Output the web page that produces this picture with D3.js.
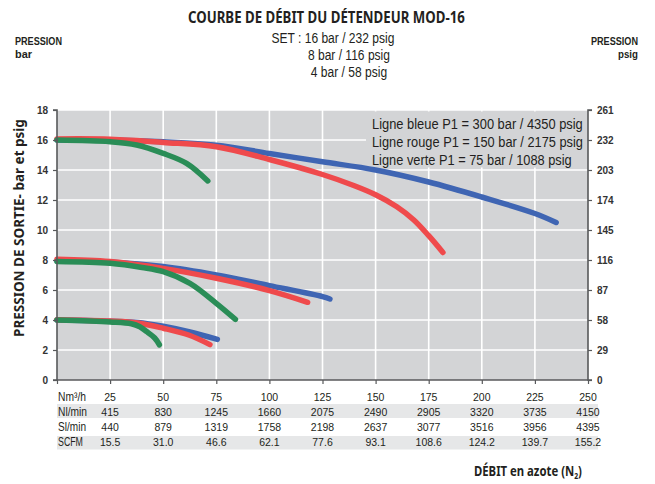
<!DOCTYPE html>
<html><head><meta charset="utf-8">
<script src="https://cdn.jsdelivr.net/npm/d3@7"></script>
<style>
html,body{margin:0;padding:0;background:#fff;}
svg{display:block;}
</style></head>
<body>
<svg id="chart" width="655" height="484"></svg>
<script>
// ---------- data ----------
const flowTicks = [25, 50, 75, 100, 125, 150, 175, 200, 225, 250];
const nlMin = ["415","830","1245","1660","2075","2490","2905","3320","3735","4150"];
const slMin = ["440","879","1319","1758","2198","2637","3077","3516","3956","4395"];
const scfm = ["15.5","31.0","46.6","62.1","77.6","93.1","108.6","124.2","139.7","155.2"];
const tableLabels = ["Nm³/h", "Nl/min", "Sl/min", "SCFM"];
const barTicks = [0, 2, 4, 6, 8, 10, 12, 14, 16, 18];
const psigTicks = [0, 29, 58, 87, 116, 145, 174, 203, 232, 261];
const legendLines = [
  "Ligne bleue P1 = 300 bar / 4350 psig",
  "Ligne rouge P1 = 150 bar / 2175 psig",
  "Ligne verte P1 = 75 bar / 1088 psig"
];
// flow (Nm3/h), outlet pressure (bar)
const blue16 = [[0,16.0],[25,16.0],[50,15.88],[75,15.65],[100,15.1],[125,14.55],[150,14.0],[175,13.2],[200,12.2],[225,11.1],[235,10.5]];
const red16 = [[0,16.07],[25,16.05],[50,15.84],[75,15.55],[100,14.7],[125,13.7],[140,12.95],[150,12.35],[160,11.55],[168,10.67],[175,9.62],[181.7,8.5]];
const green16 = [[0,16.0],[25,15.89],[37.5,15.67],[50,15.11],[61,14.44],[71,13.27]];
const blue8 = [[0,7.95],[25,7.86],[50,7.56],[75,7.0],[100,6.29],[125,5.56],[128.5,5.4]];
const red8 = [[0,8.05],[25,7.9],[50,7.44],[75,6.78],[100,5.96],[118,5.18]];
const green8 = [[0,7.9],[25,7.78],[40,7.5],[50,7.22],[62.6,6.44],[75,5.11],[84,4.04]];
const blue4 = [[0,4.0],[25,3.92],[38,3.84],[50,3.58],[62.6,3.2],[75.5,2.71]];
const red4 = [[0,4.02],[25,3.93],[38,3.8],[50,3.45],[62,3.0],[72,2.36]];
const green4 = [[0,4.0],[25,3.87],[35,3.75],[39,3.55],[42,3.25],[46,2.8],[48.2,2.35]];

const seriesList = [
  {data: blue16, color: "#3f65b3"}, {data: blue8, color: "#3f65b3"}, {data: blue4, color: "#3f65b3"},
  {data: red16, color: "#ef4a4c"}, {data: red8, color: "#ef4a4c"}, {data: red4, color: "#ef4a4c"},
  {data: green16, color: "#2a8d57"}, {data: green8, color: "#2a8d57"}, {data: green4, color: "#2a8d57"}
];

// ---------- layout ----------
const svg = d3.select("#chart");
const L = 57, R = 588, T = 110, B = 380;
const x = d3.scaleLinear().domain([0, 250]).range([L, R]);
const y = d3.scaleLinear().domain([0, 18]).range([B, T]);
const yPsi = d3.scaleLinear().domain([0, 261]).range([B, T]);
const cond = "'Noto Sans','Open Sans',sans-serif";
const plain = "'Liberation Sans',Arial,sans-serif";
const ink = "#231f20";

// text compressed horizontally to a given width (imitates a condensed face)
function ctext(parent, o) {
  const t = parent.append("text").attr("font-family", o.family || cond).attr("font-size", o.size)
    .attr("font-weight", o.bold ? "bold" : "normal").attr("fill", ink);
  if (o.parts) {
    o.parts.forEach(p => {
      const s = t.append("tspan").text(p.t);
      if (p.size) s.attr("font-size", p.size);
      if (p.dy) s.attr("dy", p.dy);
    });
  } else t.text(o.text);
  const w = t.node().getComputedTextLength();
  const sx = o.width ? o.width / w : (o.sx || 1);
  const ww = w * sx;
  const dx = o.anchor === "middle" ? -ww / 2 : o.anchor === "end" ? -ww : 0;
  const rot = o.rotate ? ` rotate(${o.rotate})` : "";
  t.attr("transform", `translate(${o.x},${o.y})${rot} translate(${dx},0) scale(${sx},1)`);
  return sx;
}

// titles
ctext(svg, {x: 326.5, y: 23, text: "COURBE DE DÉBIT DU DÉTENDEUR MOD-16", size: 16, bold: true, width: 277, anchor: "middle"});
const subScale = ctext(svg, {x: 333, y: 43, text: "SET : 16 bar / 232 psig", size: 14.5, family: plain, width: 123, anchor: "middle"});
ctext(svg, {x: 349, y: 60, text: "8 bar / 116 psig", size: 14.5, family: plain, sx: subScale, anchor: "middle"});
ctext(svg, {x: 349, y: 77, text: "4 bar / 58 psig", size: 14.5, family: plain, sx: subScale, anchor: "middle"});
ctext(svg, {x: 15, y: 45, text: "PRESSION", size: 10.5, bold: true, family: plain, width: 47});
ctext(svg, {x: 15, y: 58, text: "bar", size: 10.5, bold: true, family: plain, width: 17});
ctext(svg, {x: 638, y: 45, text: "PRESSION", size: 10.5, bold: true, family: plain, width: 47, anchor: "end"});
ctext(svg, {x: 638, y: 58, text: "psig", size: 10.5, bold: true, family: plain, width: 20, anchor: "end"});

// plot background
svg.append("rect").attr("x", L).attr("y", T).attr("width", R - L).attr("height", B - T).attr("fill", "#d3d4d6");
// grid
svg.append("g").selectAll("line").data(barTicks.filter(d => d > 0)).join("line")
  .attr("x1", L).attr("x2", R).attr("y1", d => y(d)).attr("y2", d => y(d))
  .attr("stroke", "#fff").attr("stroke-width", 1.6);
svg.append("g").selectAll("line").data(flowTicks.filter(d => d < 250)).join("line")
  .attr("x1", d => x(d)).attr("x2", d => x(d)).attr("y1", T).attr("y2", B)
  .attr("stroke", "#fff").attr("stroke-width", 1.6);

// legend box
svg.append("rect").attr("x", 366).attr("y", T + 1.5).attr("width", R - 366).attr("height", 56).attr("fill", "#d3d4d6");
legendLines.forEach((t, i) => {
  ctext(svg, {x: 372, y: 129 + i * 18, text: t, size: 15, family: plain, width: i === 2 ? 200 : 211});
});

// curves
const line = d3.line().x(d => x(d[0])).y(d => y(d[1])).curve(d3.curveCatmullRom.alpha(0.5));
svg.append("g").selectAll("path").data(seriesList).join("path")
  .attr("d", d => line(d.data)).attr("fill", "none").attr("stroke", d => d.color)
  .attr("stroke-width", 5.5).attr("stroke-linecap", "round").attr("stroke-linejoin", "round");

// axes
const axisColor = "#58595b";
const gl = svg.append("g").attr("transform", `translate(${L},0)`)
  .call(d3.axisLeft(y).tickValues(barTicks).tickSize(4).tickPadding(5).tickFormat(d3.format("d")));
const gr = svg.append("g").attr("transform", `translate(${R},0)`)
  .call(d3.axisRight(yPsi).tickValues(psigTicks).tickSize(4).tickPadding(5).tickFormat(d3.format("d")));
const gb = svg.append("g").attr("transform", `translate(0,${B})`)
  .call(d3.axisBottom(x).tickValues([0].concat(flowTicks)).tickSize(4).tickFormat(""));
[gl, gr, gb].forEach(g => {
  g.select(".domain").attr("stroke", axisColor).attr("stroke-width", 1.6);
  g.selectAll(".tick line").attr("stroke", axisColor).attr("stroke-width", 1.2);
  g.selectAll(".tick text").attr("font-family", plain).attr("font-weight", "bold").attr("font-size", 10).attr("fill", "#333");
});
gl.select(".domain").attr("d", `M-4,${T}H0V${B}H-4`);
gr.select(".domain").attr("d", `M4,${T}H0V${B}H4`);
gb.select(".domain").attr("d", `M${L},0H${R}`);

// y-axis title
ctext(svg, {x: 24, y: 228, rotate: -90, text: "PRESSION DE SORTIE- bar et psig", size: 15, bold: true, width: 218, anchor: "middle"});

// table
const rowsY = [401, 416, 431, 446];
svg.append("rect").attr("x", L).attr("y", 404).attr("width", 541).attr("height", 14).attr("fill", "#e6e7e8");
svg.append("rect").attr("x", L).attr("y", 436).attr("width", 541).attr("height", 13.5).attr("fill", "#e6e7e8");
const tableRows = [flowTicks.map(String), nlMin, slMin, scfm];
const labelWidths = [28, 29, 28, 25];
tableLabels.forEach((lab, i) => {
  ctext(svg, {x: 58, y: rowsY[i], text: lab, size: 12, family: plain, width: labelWidths[i]});
  svg.append("g").selectAll("text").data(tableRows[i]).join("text")
    .attr("x", (d, j) => x(flowTicks[j])).attr("y", rowsY[i]).attr("text-anchor", "middle")
    .attr("font-family", plain).attr("font-size", 10.5).attr("fill", ink).text(d => d);
});

// x title
ctext(svg, {x: 582, y: 476, size: 15, bold: true, width: 108, anchor: "end",
  parts: [{t: "DÉBIT en azote (N"}, {t: "2", size: 9, dy: 3}, {t: ")", dy: -3}]});
</script>
</body></html>
